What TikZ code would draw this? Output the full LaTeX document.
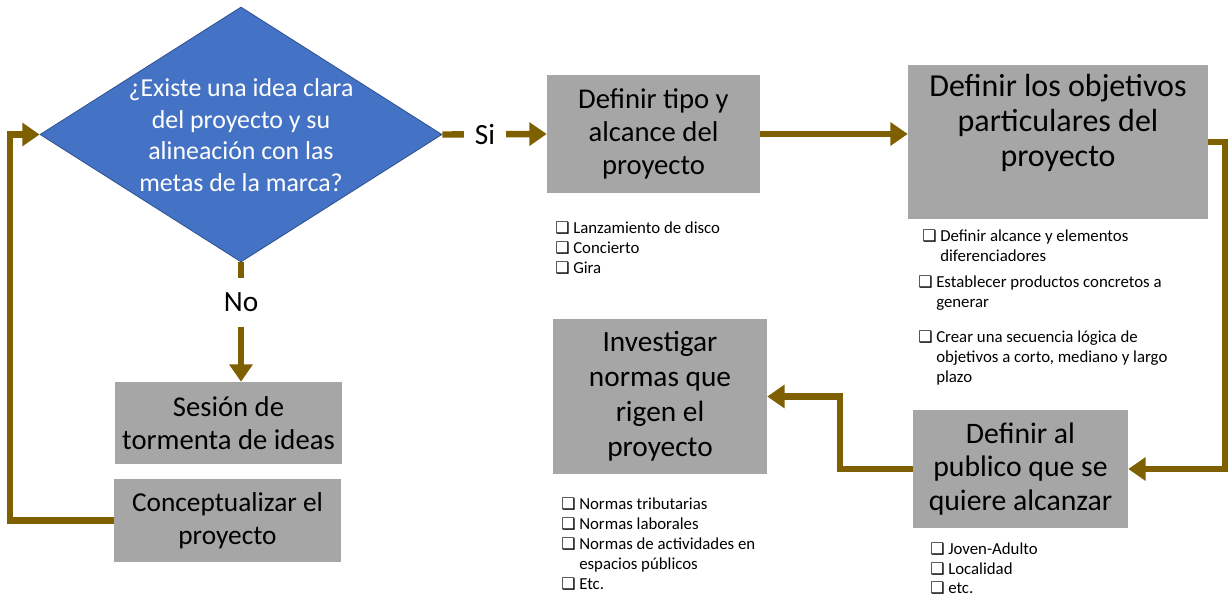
\documentclass[tikz,border=0pt]{standalone}
\usepackage{fontspec}
\setmainfont{Carlito}
\newfontfamily\dejavu{DejaVu Sans}
\usetikzlibrary{shapes.geometric,arrows.meta}
\definecolor{boxgray}{HTML}{A6A6A6}
\definecolor{dblue}{HTML}{4472C4}
\definecolor{dblueb}{HTML}{2F528F}
\definecolor{arrowc}{HTML}{7F6000}
\newcommand\cbx{\makebox[13.5pt][l]{\raisebox{0pt}[0pt][0pt]{\dejavu\fontsize{12}{12}\selectfont ❑}}}
\newcommand\indt{\hspace*{13.5pt}}
\tikzset{
  box/.style={fill=boxgray, draw=none, inner sep=0pt, align=center},
  bigtxtb/.style={align=center, inner sep=0pt, font=\fontsize{24}{26.2}\selectfont},
  listtxt/.style={anchor=north west, align=left, inner sep=0pt, font=\fontsize{12.6}{15}\selectfont},
  conn/.style={draw=arrowc, line width=4.8pt, line join=miter, -{Triangle[length=13pt,width=17pt]}},
  lbl/.style={fill=white, inner sep=2pt, font=\fontsize{22}{24}\selectfont}
}
\begin{document}
\begin{tikzpicture}[x=0.75pt,y=-0.75pt]
\useasboundingbox[fill=white] (0,0) rectangle (1232,598);

% decision diamond
\node[diamond, fill=dblue, draw=dblueb, line width=0.6pt, inner sep=0pt,
      minimum width=301.5pt, minimum height=191.25pt] (d) at (241,134.5) {};
\node[align=center, inner sep=0pt, text=white, font=\fontsize{19.4}{23.6}\selectfont] (dt) at (241,135)
  {¿Existe una idea clara\\del proyecto y su\\alineación con las\\metas de la marca?};

% boxes
\node[box, minimum width=159.75pt, minimum height=88.5pt, font=\fontsize{21.5}{25}\selectfont] (b1) at (653.5,134)
  {Definir tipo y\\alcance del\\proyecto};
\node[box, minimum width=225pt, minimum height=115.5pt] (b2) at (1058,142) {};
\node[bigtxtb] (b2t) at (1058,123) {Definir los objetivos\\particulares del\\proyecto};
\node[box, minimum width=160.5pt, minimum height=116.25pt, font=\fontsize{22}{26.2}\selectfont] (b3) at (660,396.5)
  {Investigar\\normas que\\rigen el\\proyecto};
\node[box, minimum width=161.25pt, minimum height=88.5pt, font=\fontsize{22.3}{25}\selectfont] (b4) at (1020.5,469)
  {Definir al\\publico que se\\quiere alcanzar};
\node[box, minimum width=170.25pt, minimum height=61.5pt, font=\fontsize{21.5}{25}\selectfont] (s1) at (228.5,423)
  {Sesión de\\tormenta de ideas};
\node[box, minimum width=170.25pt, minimum height=62.25pt, font=\fontsize{20.5}{25}\selectfont] (s2) at (227.5,520.5)
  {Conceptualizar el\\proyecto};

% connectors
\draw[conn] (d.east) -- (b1.west);
\node[lbl, minimum width=31.5pt] (si) at (485,134.5) {Si};
\draw[conn] (d.south) -- (d.south |- s1.north);
\node[lbl, minimum height=37pt] (no) at (241,302.5) {No};
\draw[conn] (b1.east) -- (b1.east -| b2.west);
\coordinate (c1) at (1225,142);
\draw[conn] (b2.east) -- (c1) |- (b4.east);
\coordinate (c2) at (840,469);
\draw[conn] (b4.west) -- (c2) |- (b3.east);
\coordinate (c3) at (10,520.5);
\draw[conn] (s2.west) -- (c3) |- (d.west);

% lists
\node[listtxt] (l1) at (555,222) {\cbx Lanzamiento de disco\\\cbx Concierto\\\cbx Gira};
\node[listtxt] (l2a) at (922,230) {\cbx Definir alcance y elementos\\\indt diferenciadores};
\node[listtxt] (l2b) at (918,276) {\cbx Establecer productos concretos a\\\indt generar};
\node[listtxt] (l2c) at (918,331) {\cbx Crear una secuencia lógica de\\\indt objetivos a corto, mediano y largo\\\indt plazo};
\node[listtxt] (l3) at (561,498) {\cbx Normas tributarias\\\cbx Normas laborales\\\cbx Normas de actividades en\\\indt espacios públicos\\\cbx Etc.};
\node[listtxt, font=\fontsize{12.6}{14.6}\selectfont] (l4) at (930,543) {\cbx Joven-Adulto\\\cbx Localidad\\\cbx etc.};
\end{tikzpicture}
\end{document}
